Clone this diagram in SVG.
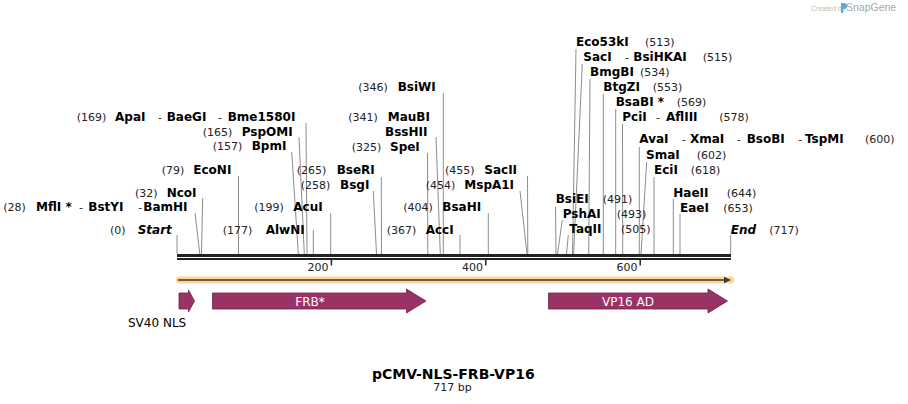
<svg xmlns="http://www.w3.org/2000/svg" width="908" height="404" viewBox="0 0 908 404">
<style>
.n{font-family:"DejaVu Sans",Verdana,sans-serif;font-size:12px;font-weight:bold;fill:#000}
.i{font-family:"DejaVu Sans",Verdana,sans-serif;font-size:12px;font-weight:bold;font-style:italic;fill:#000}
.p{font-family:"DejaVu Sans",Verdana,sans-serif;font-size:11px;fill:#222}
.cut{stroke:#8e8e8e;stroke-width:1;fill:none}
.tick{stroke:#222;stroke-width:1.5}
.feat{fill:#993366;stroke:#6e2248;stroke-width:0.8}
.ft{font-family:"DejaVu Sans",Verdana,sans-serif;font-size:12px;fill:#fff;text-anchor:middle}
</style>
<rect width="908" height="404" fill="#fff"/>

<g id="watermark">
<text x="811" y="10.5" style="font-family:'Liberation Sans',Arial,sans-serif;font-size:7px;fill:#bdbdbd">Created by</text>
<path d="M841 3 h3 a3 3 0 0 1 0 6 h-1 v4 h-2 z" fill="#5ea8e0"/>
<text x="846" y="11" style="font-family:'Liberation Sans',Arial,sans-serif;font-size:10.5px;fill:#a8a8a8">SnapGene</text>
</g>

<g id="connectors">
<line class="cut" x1="177" y1="235" x2="177" y2="254"/>
<line class="cut" x1="195" y1="213" x2="199.8" y2="254"/>
<line class="cut" x1="202.7" y1="198" x2="201.5" y2="254"/>
<line class="cut" x1="238.5" y1="176" x2="238.5" y2="254"/>
<line class="cut" x1="291.7" y1="152" x2="298.3" y2="254"/>
<line class="cut" x1="299" y1="137" x2="304.3" y2="254"/>
<line class="cut" x1="306" y1="123" x2="307" y2="254"/>
<line class="cut" x1="313.3" y1="230" x2="313.3" y2="254"/>
<line class="cut" x1="330.7" y1="213" x2="330.7" y2="254"/>
<line class="cut" x1="373.3" y1="191" x2="376.5" y2="254"/>
<line class="cut" x1="381.3" y1="177" x2="381.5" y2="254"/>
<line class="cut" x1="427.5" y1="153" x2="427.8" y2="254"/>
<line class="cut" x1="436" y1="137" x2="440.3" y2="254"/>
<line class="cut" x1="443.3" y1="93" x2="443.3" y2="254"/>
<line class="cut" x1="460" y1="235" x2="460" y2="254"/>
<line class="cut" x1="488.3" y1="213" x2="488.3" y2="254"/>
<line class="cut" x1="520" y1="191" x2="527" y2="254"/>
<line class="cut" x1="527.5" y1="176" x2="527.8" y2="254"/>
<line class="cut" x1="555.5" y1="207" x2="556" y2="254"/>
<line class="cut" x1="562.3" y1="220" x2="557.5" y2="254"/>
<line class="cut" x1="568.3" y1="235" x2="566.5" y2="254"/>
<line class="cut" x1="576" y1="49" x2="572.5" y2="254"/>
<line class="cut" x1="582.3" y1="64" x2="573.6" y2="254"/>
<line class="cut" x1="590" y1="79" x2="588.7" y2="254"/>
<line class="cut" x1="603.3" y1="94" x2="603.3" y2="254"/>
<line class="cut" x1="615.7" y1="109" x2="615.7" y2="254"/>
<line class="cut" x1="622.5" y1="124" x2="622.7" y2="254"/>
<line class="cut" x1="639.3" y1="147" x2="639.3" y2="254"/>
<line class="cut" x1="646.7" y1="162" x2="641" y2="254"/>
<line class="cut" x1="654" y1="177" x2="654" y2="254"/>
<line class="cut" x1="673.3" y1="199" x2="673.3" y2="254"/>
<line class="cut" x1="680" y1="214" x2="680" y2="254"/>
<line class="cut" x1="730.7" y1="235" x2="730.7" y2="254"/>
</g>

<g id="ruler">
<rect x="177" y="254" width="554" height="3" fill="#222"/>
<rect x="177" y="258" width="554" height="2" fill="#222"/>
<line class="tick" x1="331.4" y1="260" x2="331.4" y2="265.5"/>
<line class="tick" x1="485.8" y1="260" x2="485.8" y2="265.5"/>
<line class="tick" x1="640.2" y1="260" x2="640.2" y2="265.5"/>
<text class="p" x="328.5" y="271" text-anchor="end">200</text>
<text class="p" x="483" y="271" text-anchor="end">400</text>
<text class="p" x="637.5" y="271" text-anchor="end">600</text>
</g>

<g id="orf">
<rect x="176" y="276.5" width="558" height="7" rx="3" fill="#fdd596"/>
<line x1="178" y1="280" x2="726" y2="280" stroke="#3a3a3a" stroke-width="1.6"/>
<polygon points="724,276.8 731,280 724,283.2" fill="#3a3a3a"/>
</g>

<g id="feat-sv40nls">
<polygon class="feat" points="179,293 188.5,293 188.5,290 194.5,301 188.5,312 188.5,309 179,309"/>
<text x="128" y="327" style="font-family:'DejaVu Sans',Verdana,sans-serif;font-size:12px;fill:#000">SV40 NLS</text>
</g>
<g id="feat-frb">
<polygon class="feat" points="212.5,293 406.5,293 406.5,289 426,301 406.5,313 406.5,309 212.5,309"/>
<text class="ft" x="310" y="305.5">FRB*</text>
</g>
<g id="feat-vp16">
<polygon class="feat" points="548.5,293 708,293 708,289 727.5,301 708,313 708,309 548.5,309"/>
<text class="ft" x="628" y="305.5">VP16 AD</text>
</g>

<g id="lbl-start"><text class="p" x="110" y="233.5">(0)</text><text class="i" x="137.7" y="233.5">Start</text></g>
<g id="lbl-mfli"><text class="p" x="3.3" y="211">(28)</text><text class="n" x="36" y="211">MflI *</text><text class="p" x="79" y="211">-</text><text class="n" x="88.3" y="211">BstYI</text><text class="p" x="138.3" y="211">-</text><text class="n" x="143.3" y="211">BamHI</text></g>
<g id="lbl-ncoi"><text class="p" x="135" y="196.5">(32)</text><text class="n" x="166.7" y="196.5">NcoI</text></g>
<g id="lbl-econi"><text class="p" x="161.7" y="174">(79)</text><text class="n" x="193.3" y="174">EcoNI</text></g>
<g id="lbl-bpmi"><text class="p" x="212.7" y="150">(157)</text><text class="n" x="251.7" y="150">BpmI</text></g>
<g id="lbl-pspomi"><text class="p" x="202.7" y="135.5">(165)</text><text class="n" x="241.7" y="135.5">PspOMI</text></g>
<g id="lbl-apai"><text class="p" x="76.7" y="121">(169)</text><text class="n" x="115" y="121">ApaI</text><text class="p" x="158" y="121">-</text><text class="n" x="166.7" y="121">BaeGI</text><text class="p" x="218" y="121">-</text><text class="n" x="227.7" y="121">Bme1580I</text></g>
<g id="lbl-acui"><text class="p" x="254.3" y="211">(199)</text><text class="n" x="293.3" y="211">AcuI</text></g>
<g id="lbl-alwni"><text class="p" x="222.7" y="233.5">(177)</text><text class="n" x="265.7" y="233.5">AlwNI</text></g>
<g id="lbl-bseri"><text class="p" x="296.8" y="173.5">(265)</text><text class="n" x="336.7" y="173.5">BseRI</text></g>
<g id="lbl-bsgi"><text class="p" x="300.7" y="189">(258)</text><text class="n" x="340" y="189">BsgI</text></g>
<g id="lbl-spei"><text class="p" x="351.7" y="151">(325)</text><text class="n" x="390" y="151">SpeI</text></g>
<g id="lbl-maubi"><text class="p" x="348.3" y="120.7">(341)</text><text class="n" x="387.7" y="120.7">MauBI</text></g>
<g id="lbl-bsshii"><text class="n" x="385" y="135.7">BssHII</text></g>
<g id="lbl-bsiwi"><text class="p" x="358.3" y="90.7">(346)</text><text class="n" x="397.7" y="90.7">BsiWI</text></g>
<g id="lbl-acci"><text class="p" x="386.7" y="234">(367)</text><text class="n" x="425.7" y="234">AccI</text></g>
<g id="lbl-bsahi"><text class="p" x="403.3" y="211">(404)</text><text class="n" x="442.3" y="211">BsaHI</text></g>
<g id="lbl-mspa1i"><text class="p" x="425.7" y="189">(454)</text><text class="n" x="464.3" y="189">MspA1I</text></g>
<g id="lbl-sacii"><text class="p" x="445" y="174">(455)</text><text class="n" x="484.3" y="174">SacII</text></g>
<g id="lbl-bsiei"><text class="n" x="555.7" y="203.3">BsiEI</text><text class="p" x="602.7" y="203.3">(491)</text></g>
<g id="lbl-pshai"><text class="n" x="562.7" y="218.3">PshAI</text><text class="p" x="616.7" y="218.3">(493)</text></g>
<g id="lbl-taqii"><text class="n" x="569.3" y="233.3">TaqII</text><text class="p" x="621" y="233.3">(505)</text></g>
<g id="lbl-eco53ki"><text class="n" x="576" y="46">Eco53kI</text><text class="p" x="645" y="46">(513)</text></g>
<g id="lbl-saci"><text class="n" x="583.3" y="60.7">SacI</text><text class="p" x="625" y="60.7">-</text><text class="n" x="633.3" y="60.7">BsiHKAI</text><text class="p" x="702.7" y="60.7">(515)</text></g>
<g id="lbl-bmgbi"><text class="n" x="590" y="75.7">BmgBI</text><text class="p" x="640" y="75.7">(534)</text></g>
<g id="lbl-btgzi"><text class="n" x="603.3" y="90.7">BtgZI</text><text class="p" x="652.7" y="90.7">(553)</text></g>
<g id="lbl-bsabi"><text class="n" x="615.7" y="106">BsaBI *</text><text class="p" x="676.7" y="106">(569)</text></g>
<g id="lbl-pcii"><text class="n" x="622.3" y="121">PciI</text><text class="p" x="656" y="121">-</text><text class="n" x="666" y="121">AflIII</text><text class="p" x="719.3" y="121">(578)</text></g>
<g id="lbl-avai"><text class="n" x="639.3" y="143.3">AvaI</text><text class="p" x="681.7" y="143.3">-</text><text class="n" x="690" y="143.3">XmaI</text><text class="p" x="736.7" y="143.3">-</text><text class="n" x="746.7" y="143.3">BsoBI</text><text class="p" x="798.3" y="143.3">-</text><text class="n" x="805" y="143.3">TspMI</text><text class="p" x="865" y="143.3">(600)</text></g>
<g id="lbl-smai"><text class="n" x="646" y="159.3">SmaI</text><text class="p" x="696.7" y="159.3">(602)</text></g>
<g id="lbl-ecii"><text class="n" x="654" y="174.3">EciI</text><text class="p" x="690.7" y="174.3">(618)</text></g>
<g id="lbl-haeii"><text class="n" x="673.3" y="196.7">HaeII</text><text class="p" x="726.7" y="196.7">(644)</text></g>
<g id="lbl-eaei"><text class="n" x="680" y="211.7">EaeI</text><text class="p" x="723.3" y="211.7">(653)</text></g>
<g id="lbl-end"><text class="i" x="730.7" y="234">End</text><text class="p" x="769.3" y="234">(717)</text></g>

<g id="title">
<text x="453.3" y="378.5" text-anchor="middle" style="font-family:'DejaVu Sans',Verdana,sans-serif;font-size:14px;font-weight:bold;fill:#000">pCMV-NLS-FRB-VP16</text>
<text x="452.5" y="390.5" text-anchor="middle" style="font-family:'DejaVu Sans',Verdana,sans-serif;font-size:11px;fill:#222">717 bp</text>
</g>
</svg>
